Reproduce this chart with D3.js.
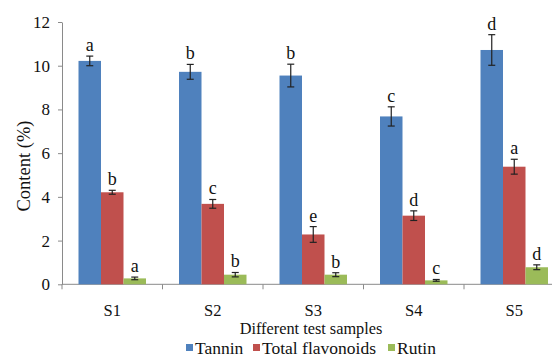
<!DOCTYPE html>
<html>
<head>
<meta charset="utf-8">
<script src="https://d3js.org/d3.v7.min.js"></script>
<style>
  body { margin: 0; background: #fff; }
  svg text { font-family: "Liberation Serif", "Times New Roman", "DejaVu Serif", serif; fill: #111; }
</style>
</head>
<body>
<div id="chart"></div>
<script>
// data
const samples = ["S1", "S2", "S3", "S4", "S5"];
const seriesNames = ["Tannin", "Total flavonoids", "Rutin"];
const colors = ["#4F81BD", "#C0504D", "#9BBB59"];

const tannin = [10.22, 9.72, 9.55, 7.68, 10.72];
const tanninErr = [0.22, 0.34, 0.52, 0.44, 0.7];
const tanninSig = ["a", "b", "b", "c", "d"];

const flavonoids = [4.21, 3.68, 2.28, 3.14, 5.38];
const flavonoidsErr = [0.09, 0.2, 0.36, 0.22, 0.34];
const flavonoidsSig = ["b", "c", "e", "d", "a"];

const rutin = [0.27, 0.44, 0.44, 0.18, 0.78];
const rutinErr = [0.06, 0.1, 0.09, 0.04, 0.11];
const rutinSig = ["a", "b", "b", "c", "d"];

const yTicks = [0, 2, 4, 6, 8, 10, 12];

const values = [tannin, flavonoids, rutin];
const errs = [tanninErr, flavonoidsErr, rutinErr];
const sigs = [tanninSig, flavonoidsSig, rutinSig];

const width = 552, height = 358;
const serif = "'Liberation Serif', 'Times New Roman', 'DejaVu Serif', serif";

const svg = d3.select("#chart").append("svg")
  .attr("width", width)
  .attr("height", height)
  .style("font-family", serif);

// scales
const x0 = d3.scaleBand().domain(samples).range([62, 564.5]).padding(0);
const x1 = d3.scaleBand().domain(seriesNames).range([16.5, 84]).padding(0);
const y = d3.scaleLinear().domain([0, 12]).range([284.3, 22]);

// y axis
const yAxis = svg.append("g")
  .attr("transform", "translate(62,0)")
  .call(d3.axisLeft(y).tickValues(yTicks).tickSize(4).tickPadding(8).tickSizeOuter(0));
yAxis.attr("font-family", null);
yAxis.select(".domain").attr("stroke", "#8a8a8a");
yAxis.selectAll(".tick line").attr("stroke", "#8a8a8a");
yAxis.selectAll(".tick text")
  .style("font-family", serif)
  .style("font-size", "17px")
  .attr("fill", "#111");

// x axis line and category ticks
svg.append("line")
  .attr("x1", 62).attr("x2", width)
  .attr("y1", y(0)).attr("y2", y(0))
  .attr("stroke", "#8a8a8a");
svg.selectAll(".xtick")
  .data(samples.concat(["end"]))
  .join("line")
  .attr("x1", (d, i) => 62 + i * x0.bandwidth())
  .attr("x2", (d, i) => 62 + i * x0.bandwidth())
  .attr("y1", y(0)).attr("y2", y(0) + 5)
  .attr("stroke", "#8a8a8a");

// bars
const groups = svg.selectAll(".grp")
  .data(samples)
  .join("g")
  .attr("transform", d => `translate(${x0(d)},0)`);

seriesNames.forEach((s, si) => {
  groups.append("rect")
    .attr("x", x1(s))
    .attr("width", x1.bandwidth())
    .attr("y", (d, i) => y(values[si][i]))
    .attr("height", (d, i) => y(0) - y(values[si][i]))
    .attr("fill", colors[si]);

  const cx = x1(s) + x1.bandwidth() / 2;
  // error bars
  groups.append("line")
    .attr("x1", cx).attr("x2", cx)
    .attr("y1", (d, i) => y(values[si][i] + errs[si][i]))
    .attr("y2", (d, i) => y(values[si][i] - errs[si][i]))
    .attr("stroke", "#222").attr("stroke-width", 1.2);
  [1, -1].forEach(sign => {
    groups.append("line")
      .attr("x1", cx - 3.5).attr("x2", cx + 3.5)
      .attr("y1", (d, i) => y(values[si][i] + sign * errs[si][i]))
      .attr("y2", (d, i) => y(values[si][i] + sign * errs[si][i]))
      .attr("stroke", "#222").attr("stroke-width", 1.2);
  });
  // significance letters
  groups.append("text")
    .attr("x", cx)
    .attr("y", (d, i) => y(values[si][i] + errs[si][i]) - 5)
    .attr("text-anchor", "middle")
    .style("font-family", serif)
    .style("font-size", "18px")
    .text((d, i) => sigs[si][i]);
});

// category labels
svg.selectAll(".xlab")
  .data(samples)
  .join("text")
  .attr("x", d => x0(d) + x0.bandwidth() / 2)
  .attr("y", 316)
  .attr("text-anchor", "middle")
  .style("font-family", serif)
  .style("font-size", "16.5px")
  .text(d => d);

// axis titles
svg.append("text")
  .attr("x", 311).attr("y", 334)
  .attr("text-anchor", "middle")
  .style("font-family", serif)
  .style("font-size", "16.3px")
  .text("Different test samples");

svg.append("text")
  .attr("transform", "translate(30,166) rotate(-90)")
  .attr("text-anchor", "middle")
  .style("font-family", serif)
  .style("font-size", "18.5px")
  .text("Content (%)");

// legend
const legendX = [186, 253, 388];
const legend = svg.selectAll(".leg")
  .data(seriesNames)
  .join("g")
  .attr("transform", (d, i) => `translate(${legendX[i]},348)`);
legend.append("rect")
  .attr("x", 0).attr("y", -4).attr("width", 7).attr("height", 7)
  .attr("fill", (d, i) => colors[i]);
legend.append("text")
  .attr("x", 9).attr("y", 5.5)
  .style("font-family", serif)
  .style("font-size", "17.5px")
  .text(d => d);
</script>
</body>
</html>
